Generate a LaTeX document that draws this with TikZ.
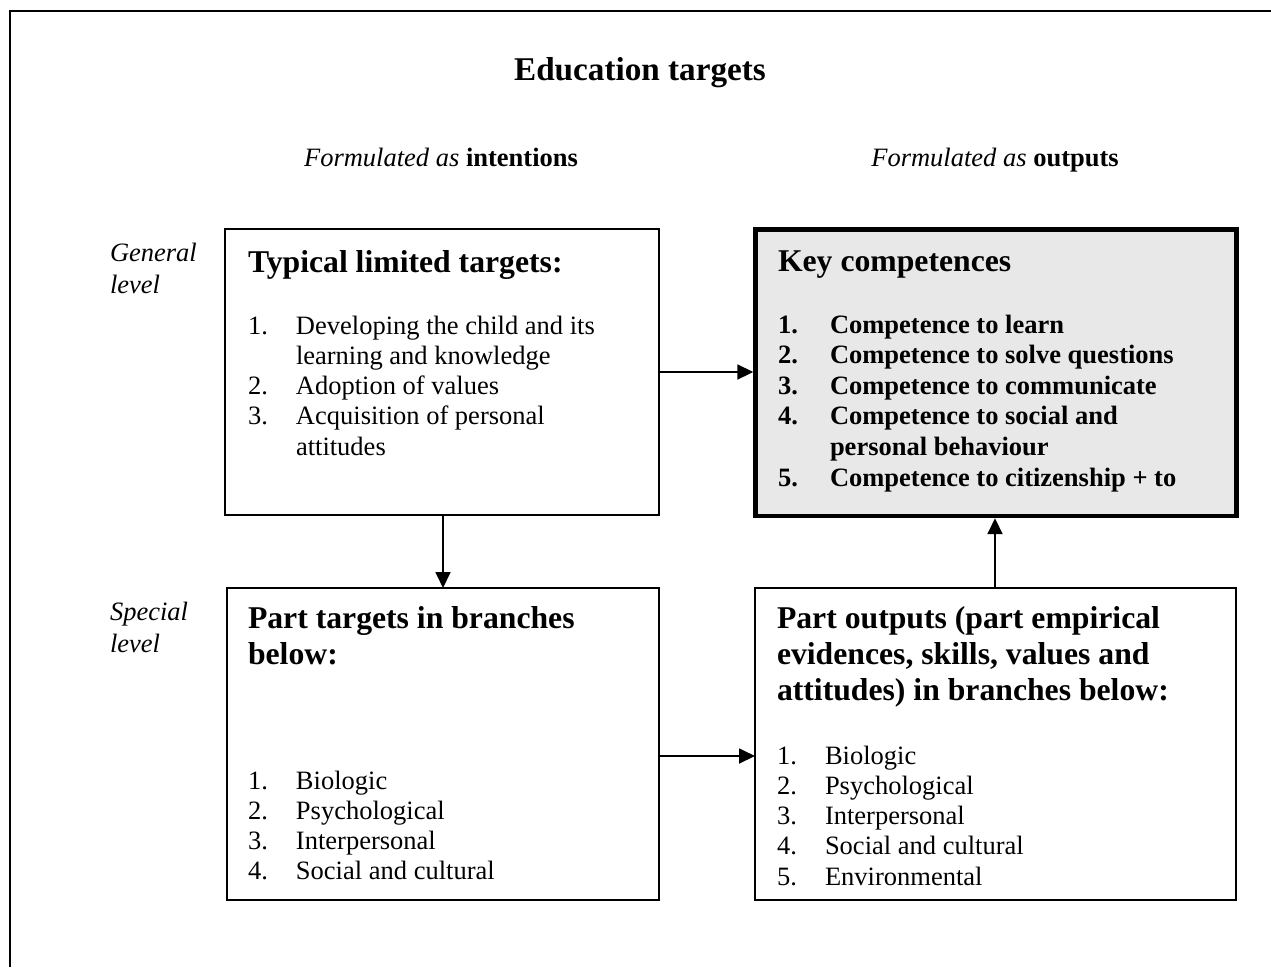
\documentclass[tikz,border=0pt]{standalone}
\usepackage{fontspec}
\setmainfont{Liberation Serif}
\usetikzlibrary{arrows.meta}
\definecolor{keygray}{RGB}{232,232,232}
\begin{document}
\begin{tikzpicture}[x=1pt,y=-1pt,
  box/.style={draw, line width=1.8pt, rectangle, inner sep=0pt, outer sep=0pt, anchor=north west},
  keybox/.style={box, line width=4.5pt, fill=keygray},
  conn/.style={line width=1.8pt, -{Triangle[length=16pt,width=15pt]}},
  txt/.style={inner sep=0pt, outer sep=0pt, anchor=base west},
  body/.style={font=\fontsize{26.5}{30.3}\selectfont},
  bodybf/.style={font=\fontsize{26.5}{30.6}\selectfont\bfseries},
  head/.style={font=\fontsize{31.7}{36}\selectfont\bfseries},
  titlef/.style={font=\fontsize{33.2}{38}\selectfont\bfseries},
  side/.style={font=\fontsize{26.5}{32}\selectfont\itshape},
]
\useasboundingbox (0,0) rectangle (1271,967);
% outer frame
\draw[line width=2.8pt] (10,967) -- (10,11) -- (1271,11);

% title and column labels
\node[txt, anchor=base, titlef] (title) at (640,80) {Education targets};
\node[txt, anchor=base, body] (fint) at (441,166) {\textit{Formulated as} \textbf{intentions}};
\node[txt, anchor=base, body] (fout) at (995,166) {\textit{Formulated as} \textbf{outputs}};
\node[txt, side] (glev) at (110,261) {\begin{tabular}[t]{@{}l@{}}General\\level\end{tabular}};
\node[txt, side] (slev) at (110,620) {\begin{tabular}[t]{@{}l@{}}Special\\level\end{tabular}};

% boxes
\node[box, minimum width=434pt, minimum height=286pt] (b1) at (225,229) {};
\node[keybox, minimum width=481pt, minimum height=286.5pt] (b2) at (755.5,229.5) {};
\node[box, minimum width=432pt, minimum height=312pt] (b3) at (227,588) {};
\node[box, minimum width=481pt, minimum height=312pt] (b4) at (755,588) {};

% box 1 text
\node[txt, head] (h1) at (248,272) {Typical limited targets:};
\node[txt, body] (l1) at (248,334) {\begin{tabular}[t]{@{}p{48pt}@{}l@{}}
1. & Developing the child and its\\
   & learning and knowledge\\
2. & Adoption of values\\
3. & Acquisition of personal\\
   & attitudes
\end{tabular}};

% box 2 text
\node[txt, head] (h2) at (778,271) {Key competences};
\node[txt, bodybf] (l2) at (778,333) {\begin{tabular}[t]{@{}p{52pt}@{}l@{}}
1. & Competence to learn\\
2. & Competence to solve questions\\
3. & Competence to communicate\\
4. & Competence to social and\\
   & personal behaviour\\
5. & Competence to citizenship + to
\end{tabular}};

% box 3 text
\node[txt, head] (h3) at (248,628) {\begin{tabular}[t]{@{}l@{}}Part targets in branches\\below:\end{tabular}};
\node[txt, body] (l3) at (248,789) {\begin{tabular}[t]{@{}p{48pt}@{}l@{}}
1. & Biologic\\
2. & Psychological\\
3. & Interpersonal\\
4. & Social and cultural
\end{tabular}};

% box 4 text
\node[txt, head] (h4) at (777,628) {\begin{tabular}[t]{@{}l@{}}Part outputs (part empirical\\evidences, skills, values and\\attitudes) in branches below:\end{tabular}};
\node[txt, body] (l4) at (777,764) {\begin{tabular}[t]{@{}p{48pt}@{}l@{}}
1. & Biologic\\
2. & Psychological\\
3. & Interpersonal\\
4. & Social and cultural\\
5. & Environmental
\end{tabular}};

% connectors
\coordinate (ya) at (0,372);
\coordinate (xb) at (443,0);
\coordinate (yc) at (0,756);
\coordinate (xd) at (995,0);
\draw[conn, shorten >=2.2pt] (b1.east |- ya) -- (b2.west |- ya);
\draw[conn] (b1.south -| xb) -- (b3.north -| xb);
\draw[conn] (b3.east |- yc) -- (b4.west |- yc);
\draw[conn, shorten >=2.2pt] (b4.north -| xd) -- (b2.south -| xd);
\end{tikzpicture}
\end{document}
